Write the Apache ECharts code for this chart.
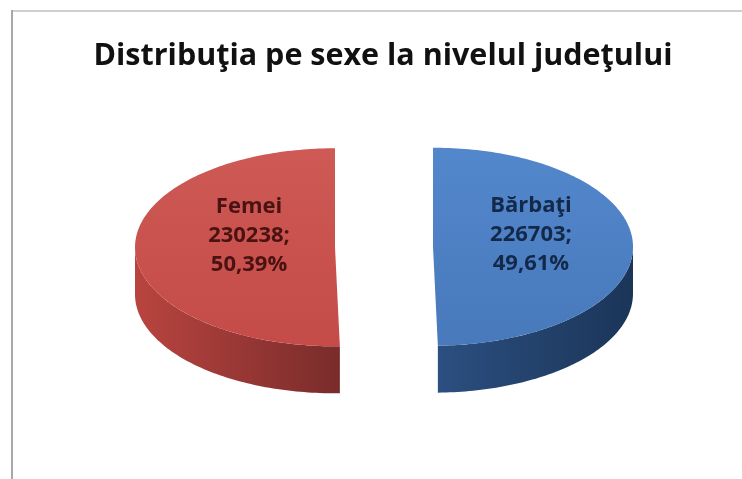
<!DOCTYPE html>
<html>
<head>
<meta charset="utf-8">
<script src="https://cdn.jsdelivr.net/npm/echarts@6/dist/echarts.min.js"></script>
<style>
html,body{margin:0;padding:0;background:#fff;}
#c{width:742px;height:479px;}
</style>
</head>
<body>
<div id="c"></div>
<script>
// ---- data ----
var titleText = 'Distribuţia pe sexe la nivelul judeţului';
var categories = ['Bărbaţi', 'Femei'];
var values = [226703, 230238];

// ---- styles ----
var topColors = [['#5387cc', '#4779bb'], ['#ce5955', '#c44b48']];
var sideColors = [['#2b4f80', '#1b3558'], ['#b9443f', '#792c2b']];
var labelColors = ['#14294a', '#4a1312'];

var total = values.reduce(function (a, b) { return a + b; }, 0);

function pct(v) {
  return (v / total * 100).toFixed(2).replace('.', ',') + '%';
}

// measure title to fit the reference width
var mctx = document.createElement('canvas').getContext('2d');
var titleFont = 'bold 31px "Open Sans"';
mctx.font = titleFont;
var titleW = mctx.measureText(titleText).width;
var titleScale = 579 / titleW;

var cx = 384, cy = 247, rx = 200, ry = 99, depth = 47, explode = 49;

function ellPts(ox, oy, a0, a1, dy) {
  var pts = [];
  var n = Math.max(8, Math.ceil((a1 - a0) / 0.02));
  for (var i = 0; i <= n; i++) {
    var t = a0 + (a1 - a0) * i / n;
    pts.push([ox + rx * Math.cos(t), oy + ry * Math.sin(t) + dy]);
  }
  return pts;
}

function sliceAngles(idx) {
  var a = -Math.PI / 2;
  for (var i = 0; i < idx; i++) a += values[i] / total * Math.PI * 2;
  return [a, a + values[idx] / total * Math.PI * 2];
}

function renderItem(params, api) {
  var idx = params.dataIndex;
  var v = api.value(1);
  var ang = sliceAngles(idx);
  var a0 = ang[0], a1 = ang[1];
  var mid = (a0 + a1) / 2;
  var ox = cx + explode * Math.cos(mid);
  var oy = cy + explode * Math.sin(mid) * ry / rx;
  var children = [];
  // visible side: portion of arc in [0, PI]
  var s0 = Math.max(a0, 0), s1 = Math.min(a1, Math.PI);
  if (s1 > s0) {
    var topArc = ellPts(ox, oy, s0, s1, 0);
    var botArc = ellPts(ox, oy, s0, s1, depth).reverse();
    children.push({
      type: 'polygon',
      shape: { points: topArc.concat(botArc) },
      style: {
        fill: new echarts.graphic.LinearGradient(0, 0, 1, 0, [
          { offset: 0, color: sideColors[idx][0] }, { offset: 1, color: sideColors[idx][1] }
        ])
      }
    });
  }
  var face = [[ox, oy]].concat(ellPts(ox, oy, a0, a1, 0));
  children.push({
    type: 'polygon',
    shape: { points: face },
    style: {
      fill: new echarts.graphic.LinearGradient(0, 0, 0, 1, [
        { offset: 0, color: topColors[idx][0] }, { offset: 1, color: topColors[idx][1] }
      ])
    }
  });
  var lx = ox + 0.46 * rx * Math.cos(mid) + 6;
  var ly = oy - 12;
  children.push({
    type: 'text',
    x: lx, y: ly,
    style: {
      text: categories[idx] + '\n' + v + ';\n' + pct(v),
      fill: labelColors[idx],
      font: 'bold 22px "Open Sans"',
      lineHeight: 29,
      align: 'center',
      verticalAlign: 'middle'
    }
  });
  return { type: 'group', children: children };
}

var chart = echarts.init(document.getElementById('c'), null, { renderer: 'canvas' });
chart.setOption({
  backgroundColor: '#ffffff',
  animation: false,
  graphic: [
    { type: 'line', shape: { x1: 12, y1: 11, x2: 742, y2: 11 }, style: { stroke: '#cfcfcf', lineWidth: 2 } },
    { type: 'line', shape: { x1: 12, y1: 10, x2: 12, y2: 479 }, style: { stroke: '#a8a8a8', lineWidth: 2 } },
    {
      type: 'text', x: 383, y: 56, scaleX: titleScale,
      style: { text: titleText, font: titleFont, fill: '#111', align: 'center', verticalAlign: 'middle' }
    }
  ],
  series: [{
    type: 'custom',
    coordinateSystem: 'none',
    renderItem: renderItem,
    data: categories.map(function (c, i) { return [i, values[i]]; })
  }]
});
</script>
</body>
</html>
